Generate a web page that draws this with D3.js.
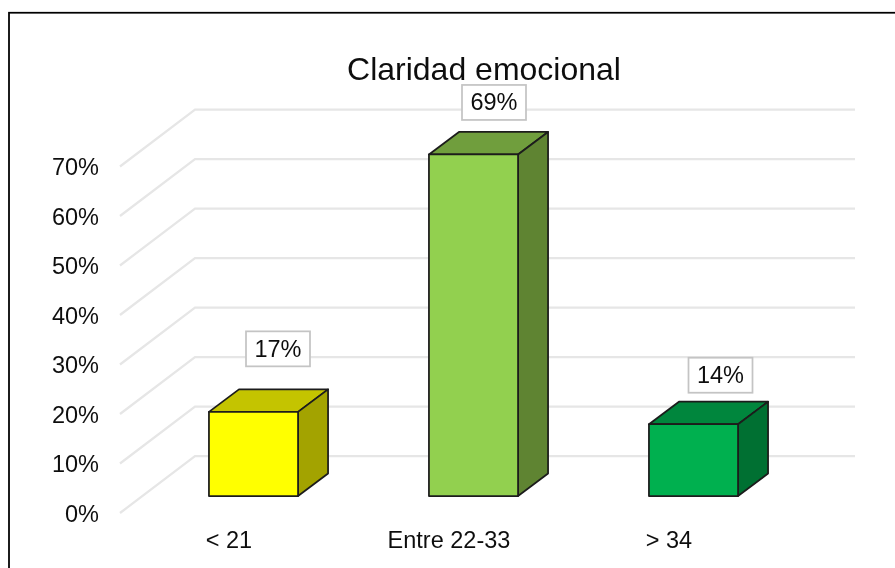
<!DOCTYPE html>
<html>
<head>
<meta charset="utf-8">
<script src="https://cdn.jsdelivr.net/npm/d3@7"></script>
<style>
  body { margin: 0; background: #fff; }
  text { font-family: "Liberation Sans", Arial, sans-serif; fill: #111; }
</style>
</head>
<body>
<svg width="895" height="568"></svg>
<script>
const categories = ['< 21', 'Entre 22-33', '> 34'];
const values = [17, 69, 14.5];
const valueLabels = ['17%', '69%', '14%'];
const ticks = [0, 10, 20, 30, 40, 50, 60, 70];
const frontColors = ['#ffff00', '#92d050', '#00b050'];
const topColors = ['#c4c400', '#6f9e3c', '#00863c'];
const sideColors = ['#a3a300', '#5f8433', '#006f31'];

const svg = d3.select('svg');

// the reference is a slightly soft screenshot
const blur = svg.append('defs').append('filter').attr('id', 'soft')
    .attr('x', 0).attr('y', 0).attr('width', 895).attr('height', 568)
    .attr('filterUnits', 'userSpaceOnUse');
blur.append('feGaussianBlur').attr('stdDeviation', 0.55);

const chart = svg.append('g').attr('filter', 'url(#soft)');

chart.append('rect').attr('width', 895).attr('height', 568).attr('fill', '#fff');
chart.append('rect')
    .attr('x', 9).attr('y', 12.75)
    .attr('width', 900).attr('height', 570)
    .attr('fill', '#fff').attr('stroke', '#000').attr('stroke-width', 1.75);

// y is measured on the front wall, the back wall and bars are shifted from it
const y = d3.scaleLinear().domain([0, 70]).range([513, 166.5]);
const x = d3.scaleBand().domain(categories).range([143.5, 803.5]).paddingInner(0.595).paddingOuter(0.2975);

const backDx = 75, backDy = -57;
const barDy = -17;
const depthX = 30, depthY = -22.5;

// data labels were placed by hand in the original, so each has its own offset from the bar
const labelDx = [24.5, 20.5, 27];
const labelDy = [-63, -52, -49];

const grid = chart.append('g');
ticks.forEach(t => {
    grid.append('path')
        .attr('d', d3.line()([[120, y(t)], [120 + backDx, y(t) + backDy], [855, y(t) + backDy]]))
        .attr('fill', 'none').attr('stroke', '#e6e6e6').attr('stroke-width', 2.25);
});

chart.append('g').selectAll('text').data(ticks).join('text')
    .attr('x', 99).attr('y', d => y(d) + 8.5)
    .attr('text-anchor', 'end').attr('font-size', 23.5)
    .text(d => d + '%');

const bars = chart.append('g').selectAll('g').data(categories).join('g');
const barStyle = sel => sel.attr('stroke', '#1c1c1c').attr('stroke-width', 1.75).attr('stroke-linejoin', 'round');

bars.each(function (c, i) {
    const g = d3.select(this);
    const x0 = x(c), x1 = x0 + x.bandwidth();
    const y0 = y(0) + barDy, y1 = y(values[i]) + barDy;
    g.append('path').call(barStyle).attr('fill', topColors[i])
        .attr('d', d3.line()([[x0, y1], [x0 + depthX, y1 + depthY], [x1 + depthX, y1 + depthY], [x1, y1]]) + 'Z');
    g.append('path').call(barStyle).attr('fill', sideColors[i])
        .attr('d', d3.line()([[x1, y1], [x1 + depthX, y1 + depthY], [x1 + depthX, y0 + depthY], [x1, y0]]) + 'Z');
    g.append('path').call(barStyle).attr('fill', frontColors[i])
        .attr('d', d3.line()([[x0, y0], [x0, y1], [x1, y1], [x1, y0]]) + 'Z');

    const cx = x0 + x.bandwidth() / 2 + labelDx[i];
    const ly = y1 + labelDy[i];
    g.append('rect')
        .attr('x', cx - 32).attr('y', ly - 17.5).attr('width', 64).attr('height', 35)
        .attr('fill', '#fff').attr('stroke', '#c4c4c4').attr('stroke-width', 1.75);
    g.append('text')
        .attr('x', cx).attr('y', ly + 8)
        .attr('text-anchor', 'middle').attr('font-size', 23.5)
        .text(valueLabels[i]);
    g.append('text')
        .attr('x', x0 + x.bandwidth() / 2 - 24.5).attr('y', 548)
        .attr('text-anchor', 'middle').attr('font-size', 23.5)
        .text(c);
});

chart.append('text')
    .attr('x', 484).attr('y', 80)
    .attr('text-anchor', 'middle').attr('font-size', 32)
    .text('Claridad emocional');
</script>
</body>
</html>
